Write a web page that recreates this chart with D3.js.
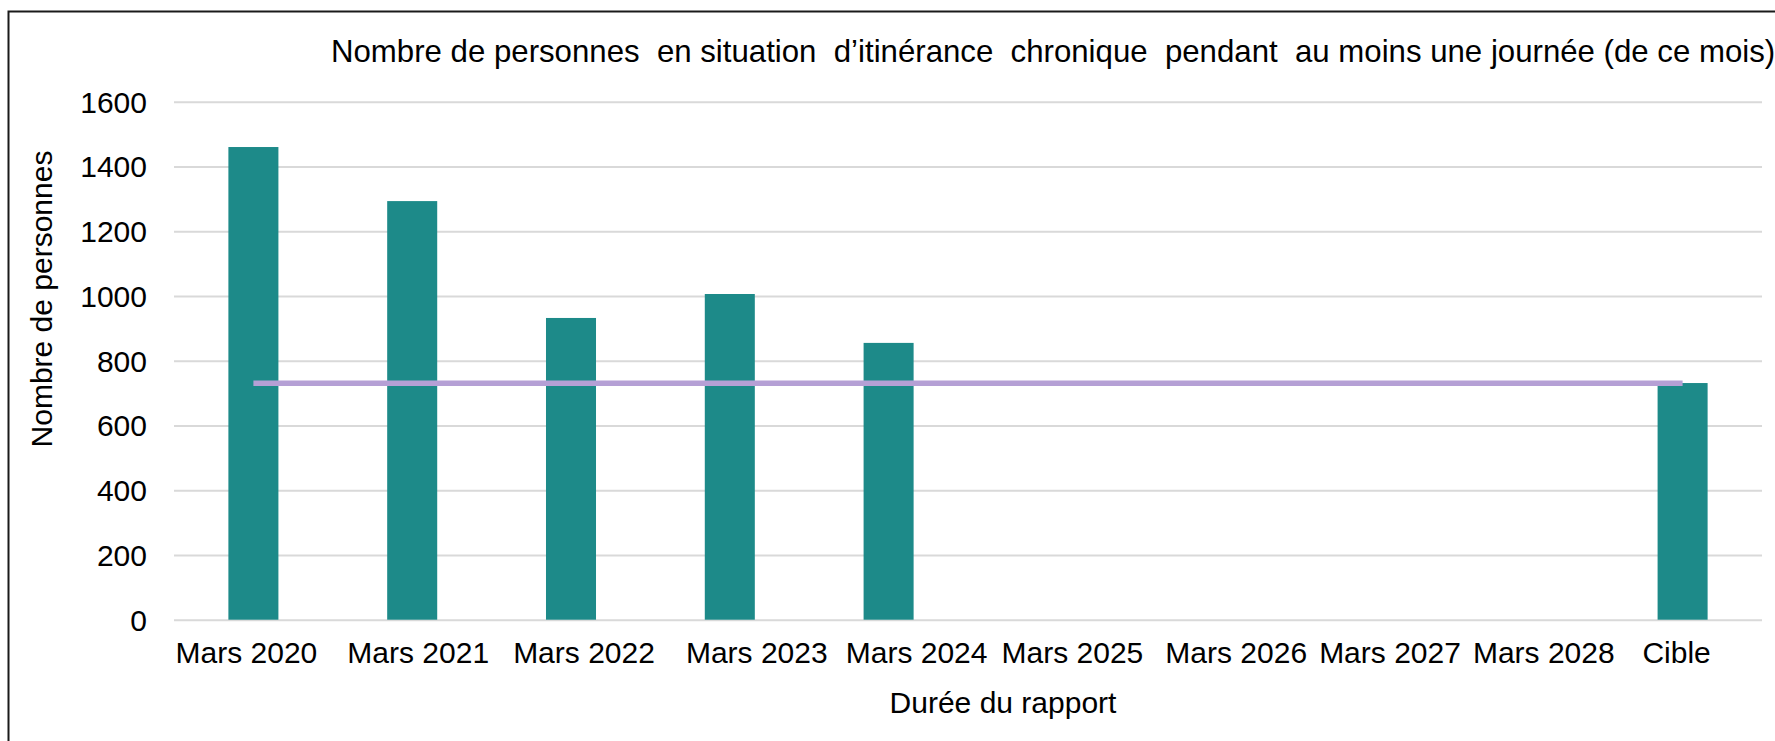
<!DOCTYPE html>
<html>
<head>
<meta charset="utf-8">
<script src="https://cdn.jsdelivr.net/npm/d3@7"></script>
<style>
  body { margin: 0; background: #fff; }
  text { font-family: "Liberation Sans", Arial, sans-serif; }
</style>
</head>
<body>
<script>
var categories = ["Mars 2020", "Mars 2021", "Mars 2022", "Mars 2023", "Mars 2024",
                  "Mars 2025", "Mars 2026", "Mars 2027", "Mars 2028", "Cible"];
var counts = [1460, 1293, 932, 1006, 855, null, null, null, null, 731];
var targetLine = [730, 730, 730, 730, 730, 730, 730, 730, 730, 730];
var yTicks = [0, 200, 400, 600, 800, 1000, 1200, 1400, 1600];

var titleText = "Nombre de personnes  en situation  d\u2019itin\u00e9rance  chronique  pendant  au moins une journ\u00e9e (de ce mois)";

var canvasW = 1775, canvasH = 741;
var plot = {left: 174, right: 1762, top: 101.7, bottom: 619.7};

var svg = d3.select("body").append("svg")
    .attr("width", canvasW)
    .attr("height", canvasH);

svg.append("rect")
    .attr("width", canvasW)
    .attr("height", canvasH)
    .attr("fill", "#fff");

// outer frame (only top and left edges are visible)
svg.append("path")
    .attr("d", "M8.5," + canvasH + "V11.5H" + canvasW)
    .attr("fill", "none")
    .attr("stroke", "#1a1a1a")
    .attr("stroke-width", 2);

var x = d3.scaleBand()
    .domain(categories)
    .range([plot.left, plot.right])
    .paddingInner(0.685)
    .paddingOuter(0.685 / 2);

var y = d3.scaleLinear()
    .domain([0, 1600])
    .range([plot.bottom, plot.top]);

// y axis + gridlines
var gy = svg.append("g")
    .attr("transform", "translate(" + plot.left + ",0)")
    .call(d3.axisLeft(y)
        .tickValues(yTicks)
        .tickFormat(d3.format("d"))
        .tickSizeInner(-(plot.right - plot.left))
        .tickSizeOuter(0)
        .tickPadding(27));
gy.select(".domain").remove();
gy.selectAll(".tick line")
    .attr("stroke", "#d9d9d9")
    .attr("stroke-width", 2);
gy.selectAll(".tick text")
    .attr("font-size", 30)
    .attr("fill", "#000")
    .attr("dy", "0.35em")
    .style("font-family", "'Liberation Sans', Arial, sans-serif");

// bars
svg.append("g")
    .selectAll("rect")
    .data(categories.map(function(c, i) { return {cat: c, v: counts[i]}; })
        .filter(function(d) { return d.v != null; }))
    .enter()
    .append("rect")
    .attr("x", function(d) { return x(d.cat); })
    .attr("y", function(d) { return y(d.v); })
    .attr("width", x.bandwidth())
    .attr("height", function(d) { return y(0) - y(d.v); })
    .attr("fill", "#1d8a89");

// target line
var line = d3.line()
    .x(function(d, i) { return x(categories[i]) + x.bandwidth() / 2; })
    .y(function(d) { return y(d); });

svg.append("path")
    .datum(targetLine)
    .attr("d", line)
    .attr("fill", "none")
    .attr("stroke", "#b5a0d5")
    .attr("stroke-width", 5.5);

// x axis labels (the source layout places them a bit off the band centres)
var labelNudge = [-7, 6, 13, 27, 28, 25, 30, 25, 20, -6];
var gx = svg.append("g")
    .attr("transform", "translate(0," + plot.bottom + ")")
    .call(d3.axisBottom(x).tickSize(0).tickPadding(0));
gx.select(".domain").remove();
gx.selectAll(".tick text")
    .attr("font-size", 30)
    .attr("fill", "#000")
    .attr("dy", 43)
    .attr("dx", function(d, i) { return labelNudge[i]; })
    .style("font-family", "'Liberation Sans', Arial, sans-serif");

// titles
svg.append("text")
    .text(titleText)
    .attr("x", 331)
    .attr("y", 61.7)
    .attr("font-size", 31.2)
    .attr("fill", "#000")
    .style("white-space", "pre");

svg.append("text")
    .text("Nombre de personnes")
    .attr("transform", "translate(52,299) rotate(-90)")
    .attr("text-anchor", "middle")
    .attr("font-size", 30)
    .attr("fill", "#000");

svg.append("text")
    .text("Dur\u00e9e du rapport")
    .attr("x", 1003)
    .attr("y", 713)
    .attr("text-anchor", "middle")
    .attr("font-size", 30)
    .attr("fill", "#000");
</script>
</body>
</html>
